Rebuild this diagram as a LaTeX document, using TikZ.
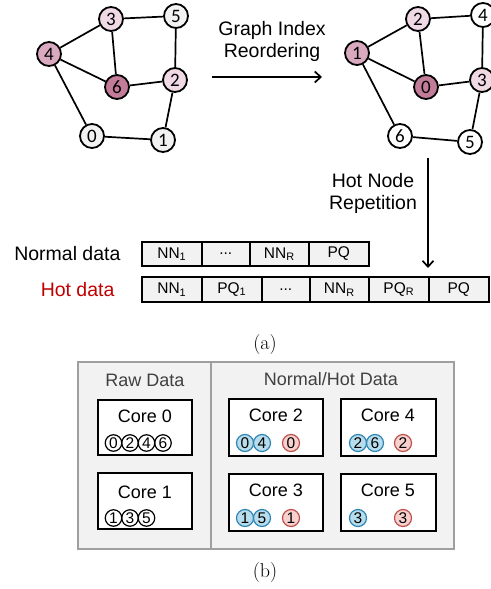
\documentclass[tikz,border=0pt]{standalone}
\usepackage{fontspec}
\setsansfont{Liberation Sans}
\newfontfamily\calib{Carlito}
\usetikzlibrary{arrows.meta}
\definecolor{hotA}{HTML}{C27C9A}
\definecolor{hotB}{HTML}{D9A9BF}
\definecolor{hotC}{HTML}{EFD9E4}
\definecolor{coldG}{HTML}{F2F2F2}
\definecolor{cellG}{HTML}{F2F2F2}
\definecolor{blueF}{HTML}{B7DDEC}
\definecolor{blueD}{HTML}{2F86B5}
\definecolor{redF}{HTML}{F7D1CD}
\definecolor{redD}{HTML}{C0504D}
\definecolor{hotred}{HTML}{C00000}
\begin{document}
\begin{tikzpicture}[x=1pt,y=-1pt,
  gnode/.style={circle, draw, line width=1.8, minimum size=24, inner sep=0, font=\calib\fontsize{19}{19}\selectfont},
  gedge/.style={line width=1.7},
  lbl/.style={font=\sffamily\fontsize{19.5}{22}\selectfont, align=center},
  cellbox/.style={draw, line width=1.6, fill=cellG, inner sep=0, anchor=west, font=\sffamily\fontsize{15.5}{15.5}\selectfont},
  corebox/.style={draw, line width=1.5, fill=white},
  coretxt/.style={font=\sffamily\fontsize{18}{18}\selectfont},
  pc/.style={circle, draw, line width=1.2, minimum size=16.5, inner sep=0, font=\sffamily\fontsize{15.5}{15.5}\selectfont},
  bc/.style={pc, draw=blueD, fill=blueF, minimum size=17},
  rc/.style={pc, draw=redD, fill=redF, minimum size=17},
  arr/.style={line width=1.7, -{Straight Barb[length=6pt,width=11pt]}},
  subcap/.style={font=\rmfamily\fontsize{20}{20}\selectfont}
]
\useasboundingbox (0,0) rectangle (490,589);
% left graph
\node[gnode, fill=hotC] (L3) at (111,19) {3};
\node[gnode, fill=coldG] (L5) at (176,16) {5};
\node[gnode, fill=hotB] (L4) at (49,54) {4};
\node[gnode, fill=hotA] (L6) at (117,87) {6};
\node[gnode, fill=hotC] (L2) at (175,80) {2};
\node[gnode, fill=coldG] (L0) at (92,136) {0};
\node[gnode, fill=coldG] (L1) at (163,140) {1};
\foreach \a/\b in {L3/L5,L3/L4,L3/L6,L4/L6,L4/L0,L6/L2,L5/L2,L2/L1,L0/L1}
  \draw[gedge] (\a) -- (\b);
% reorder label and arrow
\node[lbl] (reord) at (272,41) {Graph Index\\Reordering};
\coordinate (ha1) at (212,77);
\coordinate (ha2) at (322,77);
\draw[arr] (ha1) -- (ha2);
% right graph
\node[gnode, fill=hotC] (R2) at (418,19) {2};
\node[gnode, fill=white] (R4) at (483,15) {4};
\node[gnode, fill=hotB] (R1) at (357,53) {1};
\node[gnode, fill=hotA] (R0) at (426,87) {0};
\node[gnode, fill=hotC] (R3) at (482,80) {3};
\node[gnode, fill=white] (R6) at (400,136) {6};
\node[gnode, fill=white] (R5) at (470,142) {5};
\foreach \a/\b in {R2/R4,R2/R1,R2/R0,R1/R0,R1/R6,R0/R3,R4/R3,R3/R5,R6/R5}
  \draw[gedge] (\a) -- (\b);
% hot node repetition
\node[lbl] (hnr) at (373,193) {Hot Node\\Repetition};
\coordinate (va1) at (428,158);
\coordinate (va2) at (428,268);
\draw[arr] (va1) -- (va2);
% rows
\node[lbl, anchor=east] (nd) at (124,254) {Normal data};
\node[lbl, anchor=east, text=hotred] (hd) at (118,290) {Hot data};
\node[cellbox, minimum width=60, minimum height=24] (n1) at (141,254) {NN\textsubscript{1}};
\node[cellbox, minimum width=48, minimum height=24] (n2) at (201,254) {...};
\node[cellbox, minimum width=59, minimum height=24] (n3) at (249,254) {NN\textsubscript{R}};
\node[cellbox, minimum width=60, minimum height=24] (n4) at (308,254) {PQ};
\node[cellbox, minimum width=60, minimum height=25] (h1) at (141,289.5) {NN\textsubscript{1}};
\node[cellbox, minimum width=60, minimum height=25] (h2) at (201,289.5) {PQ\textsubscript{1}};
\node[cellbox, minimum width=48, minimum height=25] (h3) at (261,289.5) {...};
\node[cellbox, minimum width=59, minimum height=25] (h4) at (309,289.5) {NN\textsubscript{R}};
\node[cellbox, minimum width=60, minimum height=25] (h5) at (368,289.5) {PQ\textsubscript{R}};
\node[cellbox, minimum width=60, minimum height=25] (h6) at (428,289.5) {PQ};
\node[subcap] (capa) at (265,345) {(a)};
% bottom panel
\draw[line width=1.6, draw=gray!75, fill=coldG] (78,362) rectangle (454,549);
\draw[line width=1.6, draw=gray!75] (211,362) -- (211,549);
\node[coretxt, text=black!75] (raw) at (145,380) {Raw Data};
\node[coretxt, text=black!75] (nhd) at (331,379) {Normal/Hot Data};
\draw[corebox] (98,400) rectangle (192,455);
\draw[corebox] (98,473) rectangle (192,529);
\draw[corebox] (229,399) rectangle (323,456);
\draw[corebox] (341,399) rectangle (436,456);
\draw[corebox] (229,474) rectangle (323,531);
\draw[corebox] (341,474) rectangle (436,531);
\node[coretxt] (c0) at (145,416) {Core 0};
\node[coretxt] (c1) at (145,492) {Core 1};
\node[coretxt] (c2) at (276,415) {Core 2};
\node[coretxt] (c4) at (388,415) {Core 4};
\node[coretxt] (c3) at (276,490) {Core 3};
\node[coretxt] (c5) at (388,490) {Core 5};
\node[pc] (k00) at (113.5,443) {0};
\node[pc] (k02) at (130,443) {2};
\node[pc] (k04) at (146.5,443) {4};
\node[pc] (k06) at (163,443) {6};
\node[pc] (k11) at (113.5,518) {1};
\node[pc] (k13) at (130,518) {3};
\node[pc] (k15) at (146.5,518) {5};
\node[bc] (b20) at (245,443) {0};
\node[bc] (b24) at (262,443) {4};
\node[rc] (r20) at (291,443) {0};
\node[bc] (b42) at (358,443) {2};
\node[bc] (b46) at (375,443) {6};
\node[rc] (r42) at (403,443) {2};
\node[bc] (b31) at (245,518) {1};
\node[bc] (b35) at (262,518) {5};
\node[rc] (r31) at (291,518) {1};
\node[bc] (b53) at (358,518) {3};
\node[rc] (r53) at (403,518) {3};
\node[subcap] (capb) at (265,573) {(b)};
\end{tikzpicture}
\end{document}
